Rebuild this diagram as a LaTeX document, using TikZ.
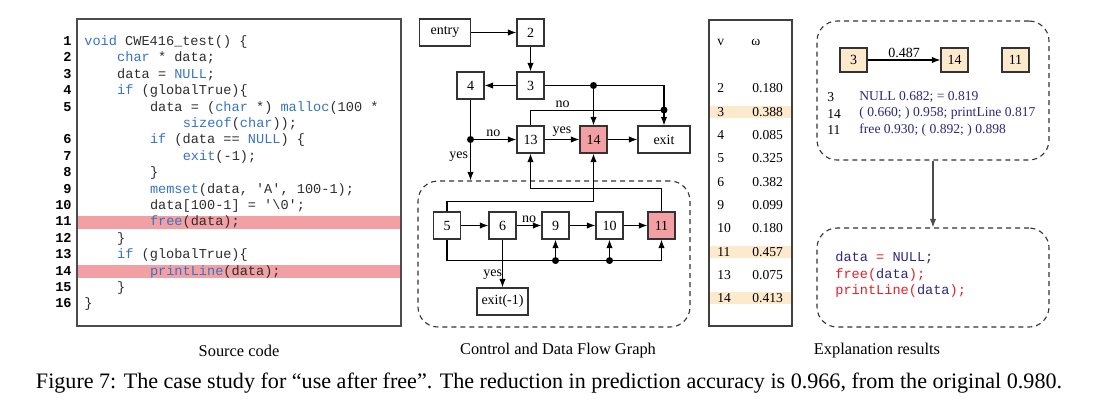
\documentclass[tikz,border=0pt]{standalone}
\usepackage{fontspec}
\setmainfont{Liberation Serif}
\setmonofont{Liberation Mono}
\usetikzlibrary{arrows.meta,calc,positioning}

\definecolor{kwblue}{RGB}{55,115,195}
\definecolor{codegray}{RGB}{45,45,45}
\definecolor{hlpink}{RGB}{242,160,164}
\definecolor{hlorange}{RGB}{253,233,204}
\definecolor{expblue}{RGB}{45,40,125}
\definecolor{expred}{RGB}{228,30,40}

\tikzset{
  blk/.style={draw=black!80, line width=0.55pt, minimum width=13.5pt, minimum height=13.5pt,
              inner sep=0pt, font=\fontsize{7}{8}\selectfont},
  hot/.style={blk, fill=hlpink},
  tag/.style={blk, fill=hlorange, minimum height=12pt},
  arr/.style={-{Latex[length=4.3pt,width=3.2pt]}, line width=0.55pt},
  dot/.style={circle, fill=black, inner sep=0pt, minimum size=3.5pt},
  lbl/.style={font=\fontsize{7}{8}\selectfont, inner sep=1pt},
  codeline/.style={anchor=west, inner sep=0pt, text height=5pt, text depth=1.5pt,
                   font=\fontsize{6.8}{8}\ttfamily, text=codegray},
  lineno/.style={anchor=east, inner sep=0pt, text height=5pt, text depth=1.5pt,
                 font=\fontsize{6.8}{8}\ttfamily\bfseries},
  cell/.style={anchor=west, inner sep=0pt, font=\fontsize{6.8}{8}\selectfont},
  dashbox/.style={draw=black!80, dash pattern=on 2.5pt off 2pt, rounded corners=10pt, line width=0.55pt},
  caption/.style={font=\fontsize{8.2}{10}\selectfont},
}
\newcommand{\kw}[1]{\textcolor{kwblue}{#1}}
\newcommand{\hot}[1]{\textcolor{expred}{#1}}

\begin{document}
\begin{tikzpicture}[x=0.5pt, y=-0.5pt]
    \useasboundingbox (0,0) rectangle (1094,404);

    % Source code
    \fill[hlpink] (77,215.9) rectangle (401,228.9);
    \fill[hlpink] (77,265.1) rectangle (401,278.1);
    \draw[line width=0.6pt, draw=black!70] (77,19) rectangle (401,326);
    \foreach \n/\y in {1/42, 2/58.4, 3/74.8, 4/91.2, 5/107.6, 6/140.4, 7/156.8, 8/173.2,
                       9/189.6, 10/206, 11/222.4, 12/238.8, 13/255.2, 14/271.6, 15/288, 16/304.4}
        \node[lineno] (ln\n) at (72,\y) {\n};
    \node[codeline] (c1) at (84,42) {\kw{void} CWE416\_test() \{};
    \node[codeline] (c2) at (116.8,58.4) {\kw{char} * data;};
    \node[codeline] (c3) at (116.8,74.8) {data = \kw{NULL};};
    \node[codeline] (c4) at (116.8,91.2) {\kw{if} (globalTrue)\{};
    \node[codeline] (c5) at (149.6,107.6) {data = (\kw{char} *) \kw{malloc}(100 *};
    \node[codeline] (c5b) at (182.4,124) {\kw{sizeof}(\kw{char}));};
    \node[codeline] (c6) at (149.6,140.4) {\kw{if} (data == \kw{NULL}) \{};
    \node[codeline] (c7) at (182.4,156.8) {\kw{exit}(-1);};
    \node[codeline] (c8) at (149.6,173.2) {\}};
    \node[codeline] (c9) at (149.6,189.6) {\kw{memset}(data, 'A', 100-1);};
    \node[codeline] (c10) at (149.6,206) {data[100-1] = '\textbackslash 0';};
    \node[codeline] (c11) at (149.6,222.4) {\kw{free}(data);};
    \node[codeline] (c12) at (116.8,238.8) {\}};
    \node[codeline] (c13) at (116.8,255.2) {\kw{if} (globalTrue)\{};
    \node[codeline] (c14) at (149.6,271.6) {\kw{printLine}(data);};
    \node[codeline] (c15) at (116.8,288) {\}};
    \node[codeline] (c16) at (84,304.4) {\}};

    % Control and data flow graph
    \node[blk, minimum width=25.5pt] (entry) at (445,32.5) {entry};
    \node[blk] (n2) at (530.5,32.5) {2};
    \node[blk] (n3) at (530.5,85.5) {3};
    \node[blk] (n4) at (470.5,85.5) {4};
    \node[blk] (n13) at (530.5,139.5) {13};
    \node[hot] (n14) at (593.5,139.5) {14};
    \node[blk, minimum width=26pt] (exit) at (664,139.5) {exit};
    \node[dashbox, minimum width=136pt, minimum height=73pt] (body) at (554,254) {};
    \node[blk] (n5) at (447,225.5) {5};
    \node[blk] (n6) at (502.5,225.5) {6};
    \node[blk] (n9) at (555.5,225.5) {9};
    \node[blk] (n10) at (609.5,225.5) {10};
    \node[hot] (n11) at (661.5,225.5) {11};
    \node[blk, minimum width=25.5pt] (quit) at (502.5,301.5) {exit(-1)};

    \draw[arr] (entry) -- (n2);
    \draw[arr] (n2) -- (n3);
    \draw[arr] (n3) -- (n4);
    \coordinate (tap) at (n14 |- n3);
    \draw[arr] (n3) -- (exit.north |- n3) -- (exit.north);
    \draw[arr] (tap) -- (n14);
    \node[dot] at (tap) {};
    \coordinate (join) at (664,110);
    \draw (n13.north) -- (n13.north |- join) -- node[lbl, above, pos=0.24] {no} (join);
    \node[dot] at (join) {};
    \coordinate (split) at (n4 |- n13);
    \draw (n4) -- (split);
    \draw[arr] (split) -- node[lbl, above] {no} (n13);
    \draw[arr] (split) -- node[lbl, left, pos=0.42] {yes} (split |- body.north);
    \node[dot] at (split) {};
    \draw[arr] (n13) -- node[lbl, above] {yes} (n14);
    \draw[arr] (n14) -- (exit);

    % edges leaving the loop body
    \draw[arr] (n5.north) -- ++(0,-10) -| (n14.south);
    \draw[arr] (n11.north) -- ++(0,-23) -| (n13.south);

    \draw[arr] (n5) -- (n6);
    \draw[arr] (n6) -- node[lbl, above] {no} (n9);
    \draw[arr] (n9) -- (n10);
    \draw[arr] (n10) -- (n11);
    \draw[arr] (n6) -- node[lbl, left, inner sep=0pt, pos=0.73] {yes} (quit);
    \coordinate (bus) at ($(n5.south)+(0,21)$);
    \draw[arr] (n5.south) -- (bus) -| (n11.south);
    \draw[arr] (n9 |- bus) -- (n9.south);
    \draw[arr] (n10 |- bus) -- (n10.south);
    \node[dot] at (n9 |- bus) {};
    \node[dot] at (n10 |- bus) {};

    % Node weights
    \fill[hlorange] (709,105.7) rectangle (792,117.7);
    \fill[hlorange] (709,245.7) rectangle (792,257.7);
    \fill[hlorange] (709,292) rectangle (792,304);
    \draw[line width=0.6pt, draw=black!75] (709,20) rectangle (792,326);
    \node[cell] (hv) at (717,42) {v};
    \node[cell] (hw) at (751,42) {ω};
    \foreach \v/\w/\y in {2/0.180/88, 3/0.388/111.7, 4/0.085/135, 5/0.325/158.3, 6/0.382/181.7,
                          9/0.099/205, 10/0.180/228.3, 11/0.457/251.7, 13/0.075/275, 14/0.413/298} {
        \node[cell] (v\v) at (717,\y) {\v};
        \node[cell] (w\v) at (752,\y) {\w};
    }

    % Explanation results
    \node[dashbox, minimum width=116pt, minimum height=69.5pt] (exp) at (933,90.5) {};
    \node[tag] (e3) at (853.5,60) {3};
    \node[tag] (e14) at (954.5,60) {14};
    \node[tag] (e11) at (1015.5,60) {11};
    \draw[arr] (e3) -- node[lbl, above] {0.487} (e14);
    \node[cell] (k3) at (827,97) {3};
    \node[cell] (k14) at (827,113.5) {14};
    \node[cell] (k11) at (827,130) {11};
    \node[cell, text=expblue] (t3) at (859,97) {NULL 0.682; = 0.819};
    \node[cell, text=expblue] (t14) at (859,113.5) {( 0.660; ) 0.958; printLine 0.817};
    \node[cell, text=expblue] (t11) at (859,130) {free 0.930; ( 0.892; ) 0.898};

    \node[dashbox, minimum width=116pt, minimum height=49.5pt] (res) at (933,277.5) {};
    \draw[arr, draw=black!70] (exp.south) -- (res.north);
    \node[codeline, text=expblue] (r1) at (835,258) {data \hot{=} NULL;};
    \node[codeline, text=expblue] (r2) at (835,274.5) {\hot{free(}data\hot{);}};
    \node[codeline, text=expblue] (r3) at (835,291) {\hot{printLine(}data\hot{);}};

    % Captions
    \node[caption] (cap1) at (239,351) {Source code};
    \node[caption] (cap2) at (558,351) {Control and Data Flow Graph};
    \node[caption] (cap3) at (877,351) {Explanation results};
    \node[font=\fontsize{11.05}{13}\selectfont] (fig) at (549,383)
        {Figure 7: The case study for “use after free”. The reduction in prediction accuracy is 0.966, from the original 0.980.};
\end{tikzpicture}
\end{document}
